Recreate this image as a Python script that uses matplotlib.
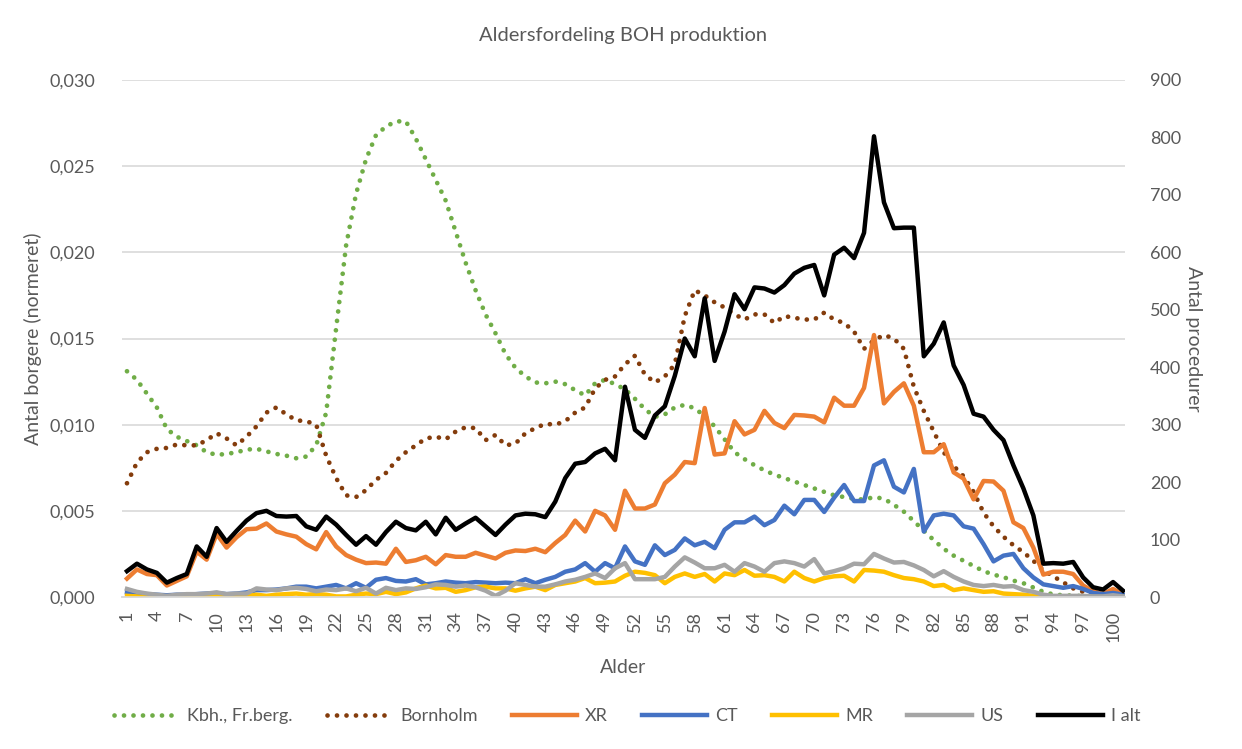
import matplotlib
matplotlib.use("Agg")
import matplotlib.pyplot as plt
from matplotlib.ticker import FuncFormatter

ages = list(range(1, 102))

kbh = [0.0131, 0.0126, 0.0118, 0.0110, 0.00975, 0.0093, 0.00905, 0.0088, 0.0084, 0.00825,
       0.0083, 0.0084, 0.00855, 0.0086, 0.00845, 0.0083, 0.0082, 0.00805, 0.00815, 0.0088,
       0.0107, 0.0156, 0.0204, 0.0234, 0.0254, 0.0268, 0.0273, 0.0276, 0.0276, 0.0266,
       0.0254, 0.0242, 0.0230, 0.0212, 0.0194, 0.0178, 0.0164, 0.0153, 0.0141, 0.0133,
       0.0128, 0.01245, 0.0124, 0.0125, 0.01235, 0.0120, 0.0117, 0.0124, 0.0126, 0.01235,
       0.01205, 0.0115, 0.0109, 0.01045, 0.0106, 0.0110, 0.01115, 0.01095, 0.0105, 0.0099,
       0.00915, 0.0084, 0.0080, 0.00765, 0.00735, 0.0071, 0.0069, 0.0067, 0.0065, 0.0063,
       0.0061, 0.0059, 0.0058, 0.0057, 0.00565, 0.0058, 0.0057, 0.00535, 0.00495, 0.0044,
       0.00385, 0.0033, 0.0028, 0.0024, 0.0021, 0.0018, 0.0015, 0.0013, 0.00115, 0.00095,
       0.0008, 0.00055, 0.0003, 0.00015, 0.0001, 0.00008, 0.00005, 0.00004, 0.00003, 0.00002,
       0.00001]

bornholm = [0.0066, 0.0078, 0.0084, 0.0086, 0.00865, 0.00885, 0.0088, 0.0088, 0.0091, 0.0095,
            0.0092, 0.0088, 0.0093, 0.0099, 0.0107, 0.0110, 0.0106, 0.01025, 0.0102, 0.0100,
            0.0082, 0.0069, 0.0059, 0.0058, 0.0062, 0.0068, 0.0072, 0.0079, 0.0084, 0.0088,
            0.0092, 0.0093, 0.00915, 0.0096, 0.00985, 0.0098, 0.0091, 0.0094, 0.0088, 0.0089,
            0.0095, 0.0098, 0.01005, 0.0100, 0.0102, 0.0107, 0.0110, 0.0121, 0.0126, 0.0128,
            0.0135, 0.0140, 0.0129, 0.01245, 0.0128, 0.0135, 0.0163, 0.0178, 0.0175, 0.0171,
            0.0168, 0.0164, 0.0161, 0.0164, 0.0164, 0.0159, 0.0163, 0.0162, 0.0161, 0.0161,
            0.0165, 0.0161, 0.0159, 0.0154, 0.0144, 0.0149, 0.0152, 0.0150, 0.0144, 0.0122,
            0.0108, 0.0096, 0.0084, 0.0076, 0.0070, 0.0061, 0.0049, 0.0041, 0.0035, 0.0030,
            0.0026, 0.0021, 0.00155, 0.0012, 0.00085, 0.0005, 0.0003, 0.0002, 0.00015, 0.0001,
            0.00008]

xr = [32, 48, 40, 38, 20, 28, 36, 79, 65, 110, 86, 104, 118, 119, 128, 114, 109, 105, 92, 83,
      113, 88, 73, 65, 59, 60, 58, 84, 61, 64, 70, 57, 73, 70, 70, 77, 72, 67, 77, 81,
      80, 84, 78, 94, 108, 133, 114, 150, 142, 117, 185, 154, 154, 161, 198, 213, 235, 233, 329, 248,
      250, 306, 283, 291, 324, 303, 294, 317, 316, 314, 304, 347, 333, 333, 364, 456, 337, 357, 372, 333,
      252, 252, 266, 217, 206, 170, 202, 201, 185, 130, 120, 86, 39, 44, 44, 40, 20, 10, 5, 14, 4]

ct = [8, 6, 5, 4, 3, 4, 4, 5, 6, 7, 5, 6, 8, 12, 12, 13, 15, 18, 18, 15,
      18, 21, 15, 24, 16, 30, 33, 28, 27, 31, 22, 24, 27, 25, 24, 26, 25, 24, 25, 24,
      31, 24, 30, 35, 44, 48, 59, 44, 59, 50, 88, 62, 56, 90, 73, 82, 102, 90, 96, 85,
      117, 130, 130, 140, 125, 134, 159, 144, 169, 169, 148, 173, 195, 167, 167, 229, 238, 192, 182, 223,
      114, 142, 145, 142, 123, 119, 92, 62, 72, 75, 50, 34, 22, 19, 16, 19, 14, 7, 5, 7, 4]

mr = [2, 1, 0, 0, 0, 0, 1, 1, 1, 1, 1, 1, 2, 4, 2, 4, 5, 6, 4, 5,
      4, 1, 1, 4, 6, 5, 9, 5, 8, 15, 20, 15, 16, 9, 12, 17, 18, 15, 15, 11,
      15, 18, 12, 21, 24, 27, 33, 24, 25, 27, 37, 44, 42, 38, 24, 35, 41, 35, 40, 27,
      41, 38, 47, 37, 38, 35, 27, 44, 33, 27, 33, 36, 37, 27, 47, 46, 44, 38, 33, 31,
      27, 19, 21, 12, 15, 12, 9, 10, 6, 5, 4, 2, 0.5, 0, 0, 0, 0, 0, 0, 0, 0]

us = [14, 9, 6, 4, 2, 4, 5, 5, 6, 8, 5, 6, 6, 15, 13, 12, 15, 16, 14, 10,
      13, 12, 15, 10, 16, 6, 16, 12, 15, 14, 17, 22, 21, 18, 20, 17, 11, 2, 11, 24,
      21, 18, 18, 22, 27, 30, 35, 41, 33, 50, 59, 31, 31, 31, 35, 53, 69, 60, 50, 50,
      56, 44, 59, 53, 44, 59, 62, 59, 53, 66, 41, 45, 50, 58, 57, 75, 67, 60, 61, 55,
      47, 36, 45, 35, 27, 21, 19, 21, 18, 19, 12, 9, 4, 2, 2, 2, 2, 1, 1, 3, 1]

i_alt = [45, 58, 48, 42, 25, 33, 40, 88, 70, 120, 96, 115, 133, 146, 150, 141, 140, 141, 123, 117,
         140, 126, 108, 91, 106, 91, 113, 131, 120, 116, 131, 109, 138, 117, 128, 138, 123, 108, 126, 142,
         145, 144, 139, 166, 207, 232, 235, 250, 258, 238, 366, 291, 277, 316, 332, 385, 450, 419, 520, 411,
         462, 527, 501, 539, 537, 530, 543, 563, 573, 578, 525, 596, 608, 590, 634, 802, 687, 642, 643, 643,
         419, 441, 478, 403, 369, 319, 314, 291, 273, 229, 189, 142, 58, 59, 58, 61, 34, 17, 13, 26, 11]

x_ticks = list(range(1, 101, 3))

TXT = "#595959"
plt.rcParams['font.family'] = ["Lato", 'DejaVu Sans']

fig = plt.figure(figsize=(12.42, 7.49), dpi=100)
ax = fig.add_axes([122 / 1242, 1 - 597 / 749, (1125 - 122) / 1242, (597 - 80) / 749])
ax2 = ax.twinx()

dot = (0, (0.01, 2.0))
ax.plot(ages, kbh, color="#70AD47", lw=3.4, ls=dot, dash_capstyle="round", label="Kbh., Fr.berg.")
ax.plot(ages, bornholm, color="#843C0C", lw=3.4, ls=dot, dash_capstyle="round", label="Bornholm")

ax2.plot(ages, xr, color="#ED7D31", lw=3.2, solid_joinstyle="round", label="XR")
ax2.plot(ages, ct, color="#4472C4", lw=3.2, solid_joinstyle="round", label="CT")
ax2.plot(ages, mr, color="#FFC000", lw=3.2, solid_joinstyle="round", label="MR")
ax2.plot(ages, us, color="#A5A5A5", lw=3.2, solid_joinstyle="round", label="US")
ax2.plot(ages, i_alt, color="#000000", lw=3.2, solid_joinstyle="round", label="I alt")

ax.set_xlim(0.5, 101.2)
ax.set_ylim(0, 0.030)
ax2.set_ylim(0, 900)
ax.set_yticks([0, 0.005, 0.010, 0.015, 0.020, 0.025, 0.030])
ax2.set_yticks(range(0, 901, 100))
ax.yaxis.set_major_formatter(FuncFormatter(lambda v, p: f"{v:.3f}".replace(".", ",")))
ax.set_xticks(x_ticks)
ax.set_xticklabels([str(a) for a in x_ticks], rotation=90)

ax.grid(axis="y", color="#D9D9D9", lw=1.2)
ax.set_axisbelow(True)
for a in (ax, ax2):
    for s in ("top", "left", "right"):
        a.spines[s].set_visible(False)
    a.spines["bottom"].set_color("#D9D9D9")
    a.spines["bottom"].set_linewidth(1.2)
    a.tick_params(length=0, colors=TXT, labelsize=13)
ax.tick_params(axis="y", pad=19)
ax.tick_params(axis="x", pad=10)
ax2.tick_params(axis="y", pad=18)

ax.set_xlabel("Alder", color=TXT, fontsize=14, labelpad=12)
ax.set_ylabel("Antal borgere (normeret)", color=TXT, fontsize=14, labelpad=6)
ax2.set_ylabel("Antal procedurer", color=TXT, fontsize=14, rotation=270, labelpad=15)

fig.text(0.502, 1 - 36 / 749, "Aldersfordeling BOH produktion", ha="center", va="center",
         color=TXT, fontsize=14.5)

h1, l1 = ax.get_legend_handles_labels()
h2, l2 = ax2.get_legend_handles_labels()
fig.legend(h1 + h2, l1 + l2, loc="center", bbox_to_anchor=(0.505, 1 - 716 / 749), ncol=7,
           frameon=False, fontsize=13, labelcolor=TXT, handlelength=3.6, handletextpad=0.45,
           columnspacing=1.9)

fig.savefig("out.png", dpi=100)
